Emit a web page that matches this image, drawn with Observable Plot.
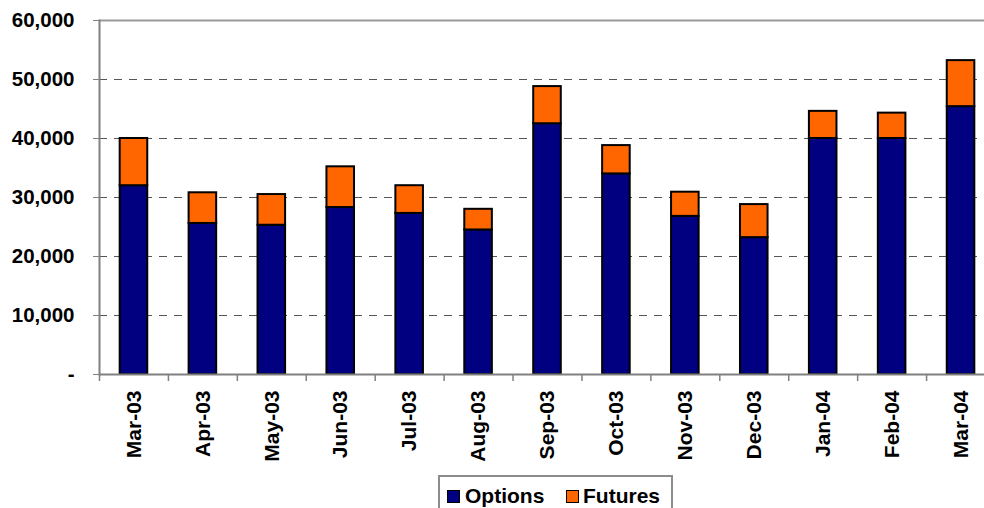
<!DOCTYPE html>
<html>
<head>
<meta charset="utf-8">
<script src="https://cdn.jsdelivr.net/npm/d3@7"></script>
<script src="https://cdn.jsdelivr.net/npm/@observablehq/plot@0.6"></script>
<style>
  html, body { margin: 0; padding: 0; background: #fff; }
  body { font-family: "Liberation Sans", Arial, sans-serif; position: relative; width: 984px; height: 508px; overflow: hidden; }
  #chart svg { display: block; }
  #legend { position: absolute; left: 438px; top: 475px; width: 235px; height: 45px; border: 2px solid #8c8c8c; box-sizing: border-box; background: #fff; }
  .sw { position: absolute; width: 13px; height: 13px; border: 1.5px solid #000; box-sizing: border-box; }
  .lt { position: absolute; font-weight: bold; font-size: 21px; line-height: 20px; color: #000; white-space: nowrap; }
</style>
</head>
<body>
<div id="chart"></div>
<div id="legend"></div>
<script>
const months = ["Mar-03","Apr-03","May-03","Jun-03","Jul-03","Aug-03","Sep-03","Oct-03","Nov-03","Dec-03","Jan-04","Feb-04","Mar-04"];
const seriesNames = ["Options", "Futures"];
const seriesColors = ["#000080", "#FF6600"];
const options = [32000, 25600, 25300, 28300, 27300, 24500, 42500, 34000, 26800, 23200, 40000, 40000, 45400];
const futures = [8000, 5200, 5200, 6900, 4700, 3500, 6300, 4800, 4100, 5600, 4600, 4300, 7800];
const yTicks = [0, 10000, 20000, 30000, 40000, 50000, 60000];
const gridTicks = [10000, 20000, 30000, 40000, 50000];

const data = [];
months.forEach((m, i) => {
  data.push({month: m, series: "Options", value: options[i]});
  data.push({month: m, series: "Futures", value: futures[i]});
});

const W = 984, H = 474;
const xRange = [99, 995];
const step = (xRange[1] - xRange[0]) / months.length;

const chart = Plot.plot({
  width: W,
  height: H,
  marginLeft: 99,
  marginRight: 0,
  marginTop: 20,
  marginBottom: 100,
  style: {fontFamily: "'Liberation Sans', Arial, sans-serif", fontSize: "20px", fontWeight: "bold", color: "#000", background: "#fff"},
  x: {domain: months, range: xRange, paddingInner: 0.6, paddingOuter: 0.3, round: false, label: null},
  y: {domain: [0, 60000], label: null},
  color: {domain: seriesNames, range: seriesColors},
  marks: [
    Plot.gridY(gridTicks, {stroke: "#555", strokeOpacity: 1, strokeWidth: 1, strokeDasharray: "8,7"}),
    Plot.barY(data, {x: "month", y: "value", fill: "series", stroke: "#000", strokeWidth: 2, order: seriesNames}),
    Plot.ruleY([60000], {stroke: "#999", strokeWidth: 2}),
    Plot.ruleY([0], {stroke: "#808080", strokeWidth: 2}),
    Plot.frame({anchor: "left", stroke: "#808080", strokeWidth: 2}),
    Plot.ruleX(months, {x: d => d, y1: 0, y2: 0, dx: -step / 2, insetBottom: -7, stroke: "#808080", strokeWidth: 1.5}),
    Plot.axisY(yTicks, {tickSize: 6, tickPadding: 19, stroke: "#808080", fontSize: 20.5, fontWeight: "bold", fill: "#000",
      tickFormat: d => d === 0 ? "-" : d3.format(",")(d)}),
    Plot.axisX({tickSize: 0, tickPadding: 16, tickRotate: -90, fontSize: 21, fontWeight: "bold", fill: "#000"})
  ]
});
document.getElementById("chart").appendChild(chart);

const legend = document.getElementById("legend");
const items = [
  {name: seriesNames[0], color: seriesColors[0], sx: 7, tx: 25},
  {name: seriesNames[1], color: seriesColors[1], sx: 126, tx: 143}
];
items.forEach(it => {
  const sw = document.createElement("div");
  sw.className = "sw";
  sw.style.left = it.sx + "px";
  sw.style.top = "13px";
  sw.style.background = it.color;
  legend.appendChild(sw);
  const t = document.createElement("div");
  t.className = "lt";
  t.style.left = it.tx + "px";
  t.style.top = "9px";
  t.textContent = it.name;
  legend.appendChild(t);
});
</script>
</body>
</html>
